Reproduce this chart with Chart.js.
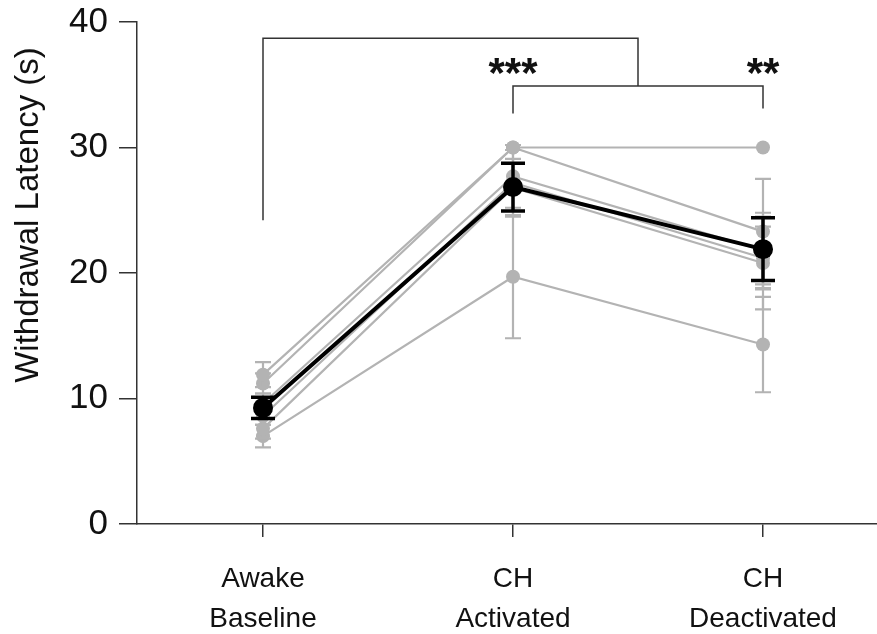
<!DOCTYPE html>
<html>
<head>
<meta charset="utf-8">
<script src="https://cdn.jsdelivr.net/npm/chart.js@4"></script>
<style>
  html, body { margin: 0; padding: 0; background: #fff; overflow: hidden; }
  #wrap { width: 877px; height: 634px; position: relative; }
  #latencyChart { display: block; }
</style>
</head>
<body>
<div id="wrap"><canvas id="latencyChart"></canvas></div>
<script>
// ====================
// DATA
// ====================
const categories = [["Awake", "Baseline"], ["CH", "Activated"], ["CH", "Deactivated"]];
const yTicks = [0, 10, 20, 30, 40];
const yTitle = "Withdrawal Latency (s)";

const meanValues = [9.25, 26.85, 21.9];
const meanErrors = [0.85, 1.9, 2.5];

// one row per animal
const subjectValues = [
  [11.9, 30.0, 30.0],
  [11.2, 30.0, 23.3],
  [9.6, 27.7, 21.8],
  [8.6, 27.2, 21.2],
  [7.6, 26.8, 20.8],
  [7.0, 19.7, 14.3]
];
const subjectErrors = [
  [1.0, 0, 0],
  [0.8, 0, 4.2],
  [0.8, 2.5, 3.0],
  [0.7, 2.6, 2.5],
  [0.8, 2.3, 3.7],
  [0.9, 4.9, 3.8]
];

// significance brackets: [xLeft, xRight, yLeftEnd, yTop, yRightEnd]
const brackets = [
  [0, 1.5, 24.2, 38.7, 34.9],
  [1, 2, 32.7, 34.9, 33.1]
];
const starLabels = [["***", 1, 36.7], ["**", 2, 36.7]];

const FONT = "'Liberation Sans', Arial, sans-serif";
const GREY = "#b3b3b3";
const AXIS = "#333";

// ====================
// PLUGINS
// ====================
const errorBars = {
  id: "errorBars",
  beforeDatasetDraw(chart, args) {
    const ds = chart.data.datasets[args.index];
    if (!ds.errors) return;
    const { ctx, scales: { x, y } } = chart;
    ctx.save();
    ctx.strokeStyle = ds.borderColor;
    ctx.lineWidth = ds.errWidth;
    ds.data.forEach((p, i) => {
      const e = ds.errors[i];
      if (!e) return;
      const px = x.getPixelForValue(p.x);
      const top = y.getPixelForValue(p.y + e);
      const bot = y.getPixelForValue(p.y - e);
      ctx.beginPath();
      ctx.moveTo(px, top); ctx.lineTo(px, bot);
      ctx.moveTo(px - ds.capHalf, top); ctx.lineTo(px + ds.capHalf, top);
      ctx.moveTo(px - ds.capHalf, bot); ctx.lineTo(px + ds.capHalf, bot);
      ctx.stroke();
    });
    ctx.restore();
  }
};

const annotations = {
  id: "annotations",
  afterDraw(chart) {
    const { ctx, scales: { x, y } } = chart;
    ctx.save();
    ctx.strokeStyle = AXIS;
    ctx.lineWidth = 1.5;
    brackets.forEach(b => {
      ctx.beginPath();
      ctx.moveTo(x.getPixelForValue(b[0]), y.getPixelForValue(b[2]));
      ctx.lineTo(x.getPixelForValue(b[0]), y.getPixelForValue(b[3]));
      ctx.lineTo(x.getPixelForValue(b[1]), y.getPixelForValue(b[3]));
      ctx.lineTo(x.getPixelForValue(b[1]), y.getPixelForValue(b[4]));
      ctx.stroke();
    });
    ctx.fillStyle = "#111";
    ctx.font = "bold 42px " + FONT;
    ctx.textAlign = "center";
    ctx.textBaseline = "alphabetic";
    starLabels.forEach(s => {
      ctx.fillText(s[0], x.getPixelForValue(s[1]), y.getPixelForValue(s[2]) + 24);
    });
    // y axis title
    ctx.translate(29, 215);
    ctx.rotate(-Math.PI / 2);
    ctx.font = "33px " + FONT;
    ctx.textBaseline = "middle";
    ctx.fillText(yTitle, 0, 0);
    ctx.restore();
  }
};

// ====================
// DATASETS
// ====================
const toPoints = vals => vals.map((v, i) => ({ x: i, y: v }));

const datasets = subjectValues.map((vals, k) => ({
  label: "Subject " + (k + 1),
  data: toPoints(vals),
  errors: subjectErrors[k],
  borderColor: GREY,
  backgroundColor: GREY,
  borderWidth: 2.2,
  pointRadius: 7,
  pointBorderWidth: 0,
  errWidth: 2.2,
  capHalf: 8,
  order: 1
}));

datasets.push({
  label: "Mean",
  data: toPoints(meanValues),
  errors: meanErrors,
  borderColor: "#000",
  backgroundColor: "#000",
  borderWidth: 4,
  pointRadius: 10,
  pointBorderWidth: 0,
  errWidth: 3.5,
  capHalf: 12,
  order: 0
});

// ====================
// CHART
// ====================
new Chart(document.getElementById("latencyChart"), {
  type: "line",
  data: { datasets },
  plugins: [errorBars, annotations],
  options: {
    responsive: true,
    maintainAspectRatio: false,
    animation: false,
    layout: { autoPadding: false, padding: { top: 22, right: 0, left: 0, bottom: 0 } },
    plugins: { legend: { display: false }, tooltip: { enabled: false } },
    scales: {
      x: {
        type: "linear",
        min: -0.504,
        max: 2.456,
        afterBuildTicks: s => { s.ticks = [0, 1, 2].map(v => ({ value: v })); },
        afterFit: s => { s.height = 110; s.paddingLeft = 0; s.paddingRight = 0; },
        ticks: {
          callback: v => categories[v],
          font: { size: 28, family: FONT, lineHeight: 1.43 },
          color: "#111",
          padding: 22,
          maxRotation: 0,
          autoSkip: false
        },
        grid: { drawOnChartArea: false, tickLength: 13, color: AXIS, lineWidth: 1.5 },
        border: { color: AXIS, width: 1.5 }
      },
      y: {
        min: 0,
        max: 40,
        afterBuildTicks: s => { s.ticks = yTicks.map(v => ({ value: v })); },
        afterFit: s => { s.width = 137; s.paddingTop = 0; s.paddingBottom = 0; },
        ticks: {
          font: { size: 35, family: FONT },
          color: "#111",
          padding: 11
        },
        grid: { drawOnChartArea: false, tickLength: 18, color: AXIS, lineWidth: 1.5 },
        border: { color: AXIS, width: 1.5 }
      }
    }
  }
});
</script>
</body>
</html>
